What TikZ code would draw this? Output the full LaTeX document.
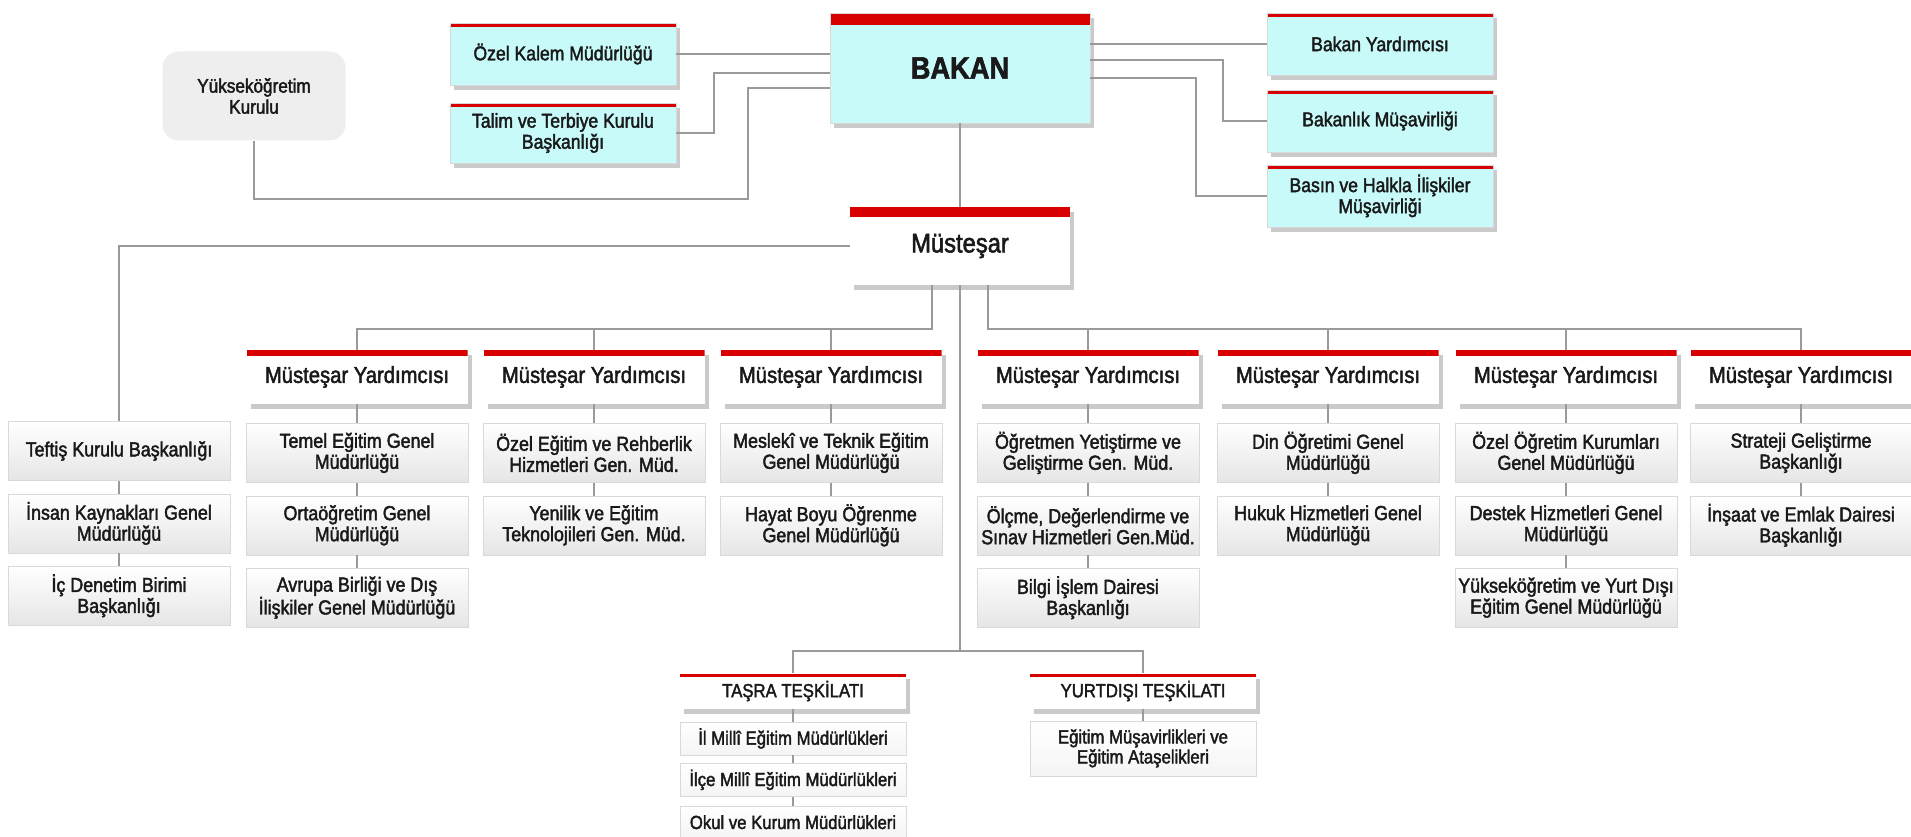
\documentclass[tikz,border=0pt]{standalone}
\usepackage{fontspec}
\setmainfont{Liberation Sans}[FakeStretch=0.88, FakeBold=2]
\usepackage{tikz}
\usetikzlibrary{positioning}
\usetikzlibrary{shadows}
\definecolor{barred}{HTML}{D80000}
\definecolor{bakancyan}{HTML}{C8FAFA}
\definecolor{linegray}{HTML}{9A9A9A}

\begin{document}
\begin{tikzpicture}[x=1pt, y=-1pt, auto]
% tikz settings
\tikzstyle{redtop} = [path picture={\fill[barred] (path picture bounding box.north west) rectangle ([yshift=-#1]path picture bounding box.north east);}]
\tikzstyle{line} = [draw, linegray, line width=1.6pt]
\tikzstyle{topbox} = [rectangle, draw=gray!30, fill=bakancyan, text=black!90, align=center,
    minimum width=226pt, minimum height=62pt, inner sep=2pt, font={\fontsize{20}{21}\selectfont},
    redtop=4pt, drop shadow={shadow xshift=4pt, shadow yshift=-5pt, fill=gray!70, opacity=.6}]
\tikzstyle{head} = [rectangle, fill=white, text=black!90, align=center,
    minimum width=221pt, minimum height=54pt, inner sep=2pt, font={\fontsize{23}{24}\selectfont},
    redtop=6pt, drop shadow={shadow xshift=4pt, shadow yshift=-5pt, fill=gray!70, opacity=.6}]
\tikzstyle{unit} = [rectangle, draw=gray!30, top color=white, bottom color=gray!20, text=black!90,
    align=center, minimum width=222pt, minimum height=59pt, inner sep=2pt, font={\fontsize{20.3}{21}\selectfont}]
\tikzstyle{smallhead} = [head, minimum width=226pt, minimum height=35pt, redtop=3pt, font={\fontsize{19}{20}\selectfont}]
\tikzstyle{small} = [unit, minimum width=226pt, minimum height=33pt, bottom color=gray!8, font={\fontsize{19}{20}\selectfont}]
\tikzstyle{council} = [rectangle, rounded corners=16pt, fill=gray!13, text=black!90, align=center,
    minimum width=183pt, minimum height=89pt, font={\fontsize{19.5}{21}\selectfont}]

\useasboundingbox (0,0) rectangle (1911,837);

% the tikz picture
\node [council] (yok) at (254,96) {Yükseköğretim\\Kurulu};
\node [topbox] (ozel) at (563,54) {Özel Kalem Müdürlüğü};
\node [topbox, minimum height=60pt] (talim) at (563,133) {Talim ve Terbiye Kurulu\\Başkanlığı};
\node [topbox, minimum width=260pt, minimum height=110pt, redtop=12pt, font={\fontsize{31}{33}\bfseries}] (bakan) at (960,68) {BAKAN};
\node [topbox] (bkyrd) at (1380,44) {Bakan Yardımcısı};
\node [topbox] (bkmus) at (1380,121) {Bakanlık Müşavirliği};
\node [topbox] (basin) at (1380,196) {Basın ve Halkla İlişkiler\\Müşavirliği};
\node [head, minimum width=220pt, minimum height=78pt, redtop=10pt, font={\fontsize{27}{29}\selectfont}] (mustesar) at (960,246) {Müsteşar};

\node [unit] (teftis) at (119,451) {Teftiş Kurulu Başkanlığı};
\node [unit, below=13pt of teftis] (insan) {İnsan Kaynakları Genel\\Müdürlüğü};
\node [unit, below=13pt of insan] (icden) {İç Denetim Birimi\\Başkanlığı};

\node [head] (my1) at (357,377) {Müsteşar Yardımcısı};
\node [unit, below=19pt of my1] (temel) {Temel Eğitim Genel\\Müdürlüğü};
\node [unit, below=13pt of temel] (orta) {Ortaöğretim Genel\\Müdürlüğü};
\node [unit, below=13pt of orta] (avrupa) {Avrupa Birliği ve Dış\\İlişkiler Genel Müdürlüğü};

\node [head] (my2) at (594,377) {Müsteşar Yardımcısı};
\node [unit, below=19pt of my2] (ozelegt) {Özel Eğitim ve Rehberlik\\Hizmetleri Gen. Müd.};
\node [unit, below=13pt of ozelegt] (yenilik) {Yenilik ve Eğitim\\Teknolojileri Gen. Müd.};

\node [head] (my3) at (831,377) {Müsteşar Yardımcısı};
\node [unit, below=19pt of my3] (mesleki) {Meslekî ve Teknik Eğitim\\Genel Müdürlüğü};
\node [unit, below=13pt of mesleki] (hayat) {Hayat Boyu Öğrenme\\Genel Müdürlüğü};

\node [head] (my4) at (1088,377) {Müsteşar Yardımcısı};
\node [unit, below=19pt of my4] (ogretmen) {Öğretmen Yetiştirme ve\\Geliştirme Gen. Müd.};
\node [unit, below=13pt of ogretmen] (olcme) {Ölçme, Değerlendirme ve\\Sınav Hizmetleri Gen.Müd.};
\node [unit, below=13pt of olcme] (bilgi) {Bilgi İşlem Dairesi\\Başkanlığı};

\node [head] (my5) at (1328,377) {Müsteşar Yardımcısı};
\node [unit, below=19pt of my5] (din) {Din Öğretimi Genel\\Müdürlüğü};
\node [unit, below=13pt of din] (hukuk) {Hukuk Hizmetleri Genel\\Müdürlüğü};

\node [head] (my6) at (1566,377) {Müsteşar Yardımcısı};
\node [unit, below=19pt of my6] (ozelogr) {Özel Öğretim Kurumları\\Genel Müdürlüğü};
\node [unit, below=13pt of ozelogr] (destek) {Destek Hizmetleri Genel\\Müdürlüğü};
\node [unit, below=13pt of destek] (yurtdisi) {Yükseköğretim ve Yurt Dışı\\Eğitim Genel Müdürlüğü};

\node [head] (my7) at (1801,377) {Müsteşar Yardımcısı};
\node [unit, below=19pt of my7] (strateji) {Strateji Geliştirme\\Başkanlığı};
\node [unit, below=13pt of strateji] (insaat) {İnşaat ve Emlak Dairesi\\Başkanlığı};

\node [smallhead] (tasra) at (793,691) {TAŞRA TEŞKİLATI};
\node [small, below=13pt of tasra] (ilmem) {İl Millî Eğitim Müdürlükleri};
\node [small, below=8pt of ilmem] (ilcemem) {İlçe Millî Eğitim Müdürlükleri};
\node [small, below=9pt of ilcemem] (okul) {Okul ve Kurum Müdürlükleri};

\node [smallhead] (ydt) at (1143,691) {YURTDIŞI TEŞKİLATI};
\node [small, minimum height=55pt, below=12pt of ydt] (musavir) {Eğitim Müşavirlikleri ve\\Eğitim Ataşelikleri};

% connectors
\coordinate (yokturn) at (748,199);
\coordinate (lbus) at (932,329);
\coordinate (rbus) at (988,329);
\coordinate (bbus) at (960,651);

\draw [line] (ozel) -- (ozel -| bakan.west);
\draw [line] (talim.east) -- ++(38,0) |- ([yshift=-5pt]bakan.west);
\draw [line] (yok.south) |- (yokturn) |- ([yshift=-20pt]bakan.west);
\draw [line] (bkyrd) -- (bkyrd -| bakan.east);
\draw [line] ([yshift=8pt]bakan.east) -- ++(133,0) |- (bkmus);
\draw [line] ([yshift=-10pt]bakan.east) -- ++(106,0) |- (basin);
\draw [line] (bakan) -- (mustesar);

\draw [line] (mustesar) -| (teftis);
\draw [line] (teftis) -- (insan) -- (icden);

\draw [line] (mustesar.south -| lbus) -- (lbus) -| (my1);
\draw [line] (lbus) -| (my2);
\draw [line] (lbus) -| (my3);
\draw [line] (mustesar.south -| rbus) -- (rbus) -| (my7);
\draw [line] (rbus) -| (my4);
\draw [line] (rbus) -| (my5);
\draw [line] (rbus) -| (my6);

\draw [line] (my1) -- (temel) -- (orta) -- (avrupa);
\draw [line] (my2) -- (ozelegt) -- (yenilik);
\draw [line] (my3) -- (mesleki) -- (hayat);
\draw [line] (my4) -- (ogretmen) -- (olcme) -- (bilgi);
\draw [line] (my5) -- (din) -- (hukuk);
\draw [line] (my6) -- (ozelogr) -- (destek) -- (yurtdisi);
\draw [line] (my7) -- (strateji) -- (insaat);

\draw [line] (mustesar) -- (bbus) -| (tasra);
\draw [line] (bbus) -| (ydt);
\draw [line] (tasra) -- (ilmem) -- (ilcemem) -- (okul);
\draw [line] (ydt) -- (musavir);
\end{tikzpicture}
\end{document}
